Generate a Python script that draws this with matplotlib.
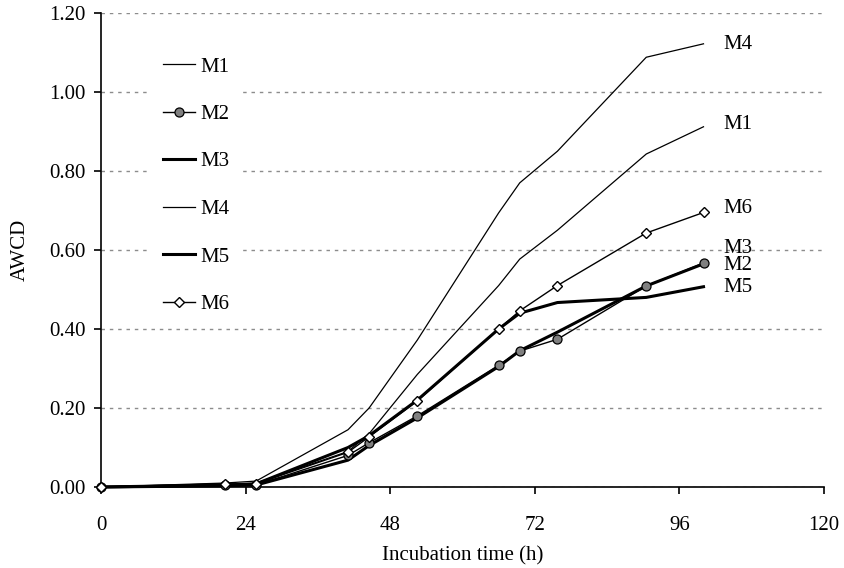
import matplotlib
matplotlib.use("Agg")
import matplotlib.pyplot as plt

plt.rcParams['font.family'] = ['Liberation Serif', 'DejaVu Serif']

hours = [0, 20.5, 25.75, 41, 44.5, 52.5, 66, 69.5, 75.75, 90.5, 100]
M1 = [0, 0.005, 0.010, 0.090, 0.135, 0.285, 0.510, 0.577, 0.650, 0.843, 0.912]
M2 = [0, 0.005, 0.005, 0.080, 0.112, 0.180, 0.308, 0.344, 0.374, 0.509, 0.567]
M3 = [0, 0.003, 0.005, 0.068, 0.105, 0.175, 0.305, 0.345, 0.392, 0.509, 0.565]
M4 = [0, 0.010, 0.015, 0.145, 0.200, 0.372, 0.694, 0.770, 0.850, 1.088, 1.122]
M5 = [0, 0.005, 0.008, 0.100, 0.130, 0.220, 0.400, 0.440, 0.467, 0.480, 0.507]
M6 = [0, 0.008, 0.008, 0.088, 0.127, 0.218, 0.400, 0.446, 0.510, 0.643, 0.695]

series_names = ['M1', 'M2', 'M3', 'M4', 'M5', 'M6']
end_label_y = {'M4': 1.12, 'M1': 0.917, 'M6': 0.705, 'M3': 0.605, 'M2': 0.562, 'M5': 0.506}
xticks = [0, 24, 48, 72, 96, 120]
yticks = [0.0, 0.2, 0.4, 0.6, 0.8, 1.0, 1.2]

fig = plt.figure(figsize=(8.44, 5.68), dpi=100)
ax = fig.add_axes([101/844, 1-487/568, 723/844, 474/568])

styles = {
    'M1': dict(color='black', lw=0.9),
    'M2': dict(color='black', lw=1.0, marker='o', ms=6.5, mfc='#808080', mec='black', mew=0.9),
    'M3': dict(color='black', lw=2.2),
    'M4': dict(color='black', lw=0.9),
    'M5': dict(color='black', lw=2.2),
    'M6': dict(color='black', lw=1.0, marker='D', ms=5.5, mfc='white', mec='black', mew=1.0),
}
data = {'M1': M1, 'M2': M2, 'M3': M3, 'M4': M4, 'M5': M5, 'M6': M6}
zorders = {'M1': 3, 'M4': 3, 'M3': 4, 'M5': 4, 'M2': 5, 'M6': 6}
for name in series_names:
    ax.plot(hours, data[name], label=name, zorder=zorders[name], clip_on=False, **styles[name])

for name, yv in end_label_y.items():
    ax.text(103.3, yv, name, fontsize=15, va='center', ha='left')

ax.set_xlim(0, 120)
ax.set_ylim(0, 1.2)
ax.set_xticks(xticks)
ax.set_yticks(yticks)
ax.set_yticklabels([f'{v:.2f}' for v in yticks])
ax.tick_params(direction='out', length=5, width=1.2, labelsize=15)
ax.tick_params(axis='x', pad=16)
ax.tick_params(axis='y', pad=6)
for s in ['top', 'right']:
    ax.spines[s].set_visible(False)
for s in ['left', 'bottom']:
    ax.spines[s].set_linewidth(1.2)
ax.yaxis.grid(True, linestyle=(0, (2.5, 3.5)), color='#8c8c8c', lw=1.0)
ax.set_axisbelow(True)

ax.set_xlabel('Incubation time (h)', fontsize=15, labelpad=8)
ax.set_ylabel('AWCD', fontsize=15, labelpad=14)

leg = ax.legend(loc='upper left', bbox_to_anchor=(39/723, 1-21/474), fontsize=15,
                frameon=True, framealpha=1, facecolor='white', edgecolor='none',
                handlelength=1.55, handletextpad=0.25, labelspacing=1.34,
                borderpad=0.6, fancybox=False)
leg.set_zorder(10)

fig.savefig('out.png', dpi=100)
